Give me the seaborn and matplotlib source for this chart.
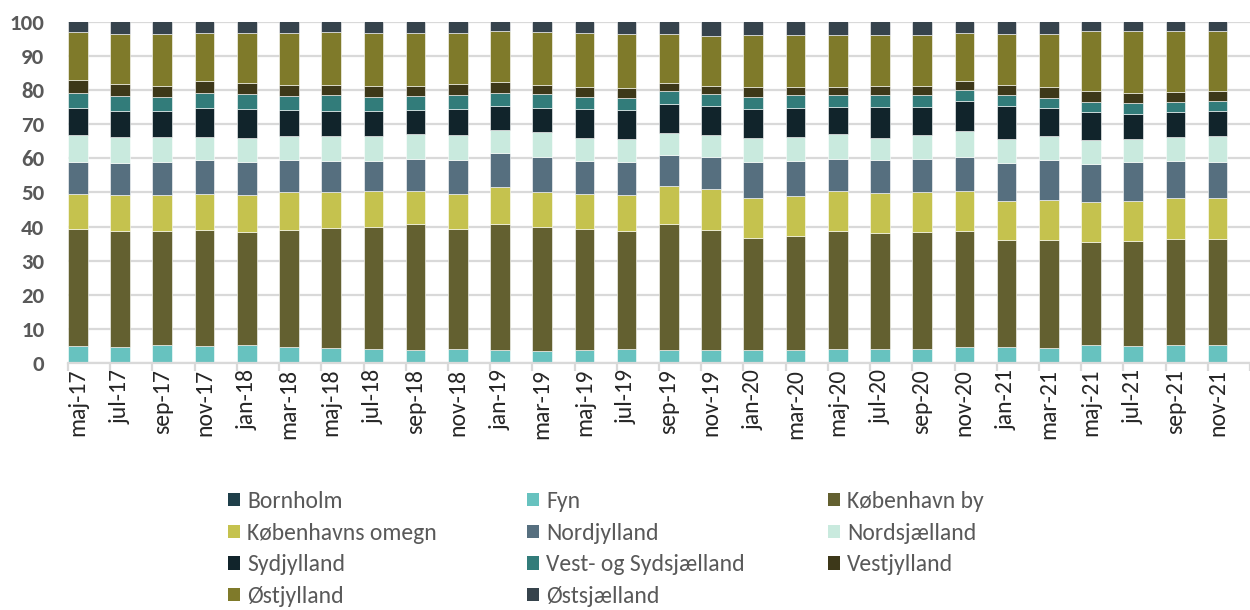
import numpy as np
import pandas as pd
import seaborn as sns
import matplotlib.pyplot as plt
from matplotlib.patches import Patch
from matplotlib.font_manager import FontProperties

months = ['maj-17', 'jul-17', 'sep-17', 'nov-17',
          'jan-18', 'mar-18', 'maj-18', 'jul-18', 'sep-18', 'nov-18',
          'jan-19', 'mar-19', 'maj-19', 'jul-19', 'sep-19', 'nov-19',
          'jan-20', 'mar-20', 'maj-20', 'jul-20', 'sep-20', 'nov-20',
          'jan-21', 'mar-21', 'maj-21', 'jul-21', 'sep-21', 'nov-21']

# shares in percent (stacked bottom -> top)
bornholm = [0.3, 0.3, 0.3, 0.3, 0.3, 0.3, 0.3, 0.3, 0.3, 0.3, 0.3, 0.3, 0.3, 0.3,
            0.3, 0.3, 0.3, 0.3, 0.3, 0.3, 0.3, 0.3, 0.3, 0.3, 0.3, 0.3, 0.3, 0.3]
fyn = [4.7, 4.5, 5.1, 4.8, 5.0, 4.5, 4.1, 3.9, 3.6, 3.9, 3.6, 3.4, 3.6, 3.9,
       3.6, 3.6, 3.6, 3.5, 3.8, 3.9, 3.9, 4.4, 4.4, 4.1, 5.0, 4.8, 5.0, 5.1]
kbh_by = [34.3, 34.0, 33.4, 34.0, 33.2, 34.2, 35.3, 35.8, 36.8, 35.1, 36.9, 36.3, 35.5, 34.6,
          36.8, 35.2, 32.7, 33.6, 34.7, 33.9, 34.1, 33.9, 31.5, 31.6, 30.1, 30.8, 31.0, 30.9]
kbh_omegn = [10.4, 10.4, 10.6, 10.5, 10.9, 11.1, 10.4, 10.5, 9.7, 10.2, 10.9, 10.1, 10.3, 10.4,
             11.3, 11.9, 11.8, 11.5, 11.6, 11.9, 11.9, 11.8, 11.3, 11.9, 11.7, 11.6, 12.1, 12.1]
nordjylland = [9.3, 9.3, 9.5, 9.9, 9.5, 9.3, 9.0, 8.8, 9.5, 9.9, 9.9, 10.3, 9.4, 9.6,
               9.0, 9.5, 10.6, 10.2, 9.4, 9.4, 9.5, 9.9, 11.1, 11.7, 11.3, 11.3, 10.7, 10.6]
nordsjaelland = [7.8, 7.7, 7.4, 6.8, 7.1, 7.2, 7.5, 7.2, 7.2, 7.3, 6.8, 7.4, 6.9, 6.9,
                 6.5, 6.3, 7.0, 7.2, 7.3, 6.7, 7.2, 7.7, 7.2, 6.8, 6.9, 7.0, 7.2, 7.5]
sydjylland = [7.9, 7.7, 7.7, 8.5, 8.5, 7.6, 7.3, 7.4, 7.1, 7.7, 7.0, 7.0, 8.4, 8.4,
              8.5, 8.6, 8.4, 8.3, 8.0, 8.9, 8.1, 8.7, 9.4, 8.4, 8.3, 7.3, 7.3, 7.4]
vest_syd = [4.4, 4.4, 4.1, 4.3, 4.3, 4.0, 4.5, 4.0, 4.1, 4.2, 3.8, 3.9, 3.7, 3.7,
            3.6, 3.4, 3.6, 3.8, 3.4, 3.5, 3.6, 3.3, 3.3, 3.0, 3.0, 3.0, 2.8, 2.9]
vestjylland = [3.9, 3.5, 3.2, 3.4, 3.4, 3.4, 3.1, 3.2, 3.0, 3.2, 3.2, 2.8, 2.8, 2.8,
               2.5, 2.4, 2.9, 2.6, 2.4, 2.6, 2.5, 2.6, 3.0, 3.1, 3.1, 3.0, 3.1, 2.9]
ostjylland = [14.1, 14.7, 15.1, 14.2, 14.6, 15.1, 15.5, 15.6, 15.5, 14.9, 14.8, 15.5, 15.7, 15.7,
              14.4, 14.7, 15.2, 15.0, 15.1, 15.1, 15.1, 14.1, 14.8, 15.6, 17.6, 18.1, 17.8, 17.6]
ostsjaelland = [3.1, 3.7, 3.9, 3.6, 3.5, 3.5, 3.2, 3.5, 3.5, 3.5, 3.0, 3.2, 3.6, 3.9,
                3.7, 4.3, 4.1, 4.2, 4.2, 4.1, 4.1, 3.7, 3.9, 3.7, 2.9, 2.9, 2.9, 2.9]

regions = ['Bornholm', 'Fyn', 'København by', 'Københavns omegn', 'Nordjylland',
           'Nordsjælland', 'Sydjylland', 'Vest- og Sydsjælland', 'Vestjylland',
           'Østjylland', 'Østsjælland']
series = [bornholm, fyn, kbh_by, kbh_omegn, nordjylland, nordsjaelland,
          sydjylland, vest_syd, vestjylland, ostjylland, ostsjaelland]
colors = ['#1f3f4a', '#67c2bf', '#636030', '#c5c24e', '#566f7f', '#c9eade',
          '#11242b', '#327c7a', '#3d3819', '#7f7a2a', '#36434c']

df = pd.DataFrame({'month': months})
for name, vals in zip(regions, series):
    df[name] = vals

sns.set_style('white')
plt.rcParams['font.family'] = ['Carlito', 'DejaVu Sans']

W, H = 1250, 610
fig = plt.figure(figsize=(W / 100, H / 100), dpi=100)
ax = fig.add_axes([68 / W, 1 - 363.3 / H, (W - 68) / W, (363.3 - 21.7) / H])

bw = 0.466
bottom = np.zeros(len(months))
for name, c in zip(regions, colors):
    sns.barplot(data=df, x='month', y=name, order=months, color=c, saturation=1,
                width=bw, bottom=bottom, errorbar=None, edgecolor='white',
                linewidth=0.4, ax=ax)
    bottom = bottom + df[name].values

ax.set_xlim(-bw / 2, -bw / 2 + (W - 68) / 42.9)
ax.set_ylim(0, 100)
ax.yaxis.grid(True, color='#d9d9d9', lw=1.6)
ax.xaxis.grid(False)
ax.set_axisbelow(True)
for s in ['top', 'right', 'left']:
    ax.spines[s].set_visible(False)
ax.spines['bottom'].set_color('#d9d9d9')
ax.spines['bottom'].set_linewidth(1.6)

ax.set_xlabel('')
ax.set_ylabel('')
ax.set_xticks(np.arange(len(months) + 1) - bw / 2, minor=True)
ax.tick_params(axis='x', which='minor', length=6, width=1.6, color='#d9d9d9', bottom=True)
ax.tick_params(axis='x', which='major', length=0, pad=4, labelsize=17, labelcolor='#262626')
ax.tick_params(axis='y', length=0, pad=17, labelcolor='#595959')
plt.setp(ax.get_xticklabels(), rotation=90)

# bold y labels, set last so nothing overrides them
yt = list(range(0, 101, 10))
bold = FontProperties(family='Carlito', weight='bold', size=16.5)
ax.set_yticks(yt, [str(v) for v in yt], fontproperties=bold)

# legend in three columns, row-major like the original
handles = [Patch(facecolor=c, edgecolor='none') for c in colors]
col_x = [228, 527, 828]
for k in range(3):
    idx = list(range(k, len(regions), 3))
    fig.legend([handles[i] for i in idx], [regions[i] for i in idx],
               loc='upper left', bbox_to_anchor=(col_x[k] / W, 1 - 491 / H),
               frameon=False, fontsize=17, labelcolor='#595959',
               handlelength=0.5, handleheight=0.5, handletextpad=0.3,
               labelspacing=0.45, borderpad=0, borderaxespad=0)

fig.canvas.draw()
for t in ax.get_yticklabels():
    t.set_fontproperties(bold)

fig.savefig('out.png', dpi=100)
